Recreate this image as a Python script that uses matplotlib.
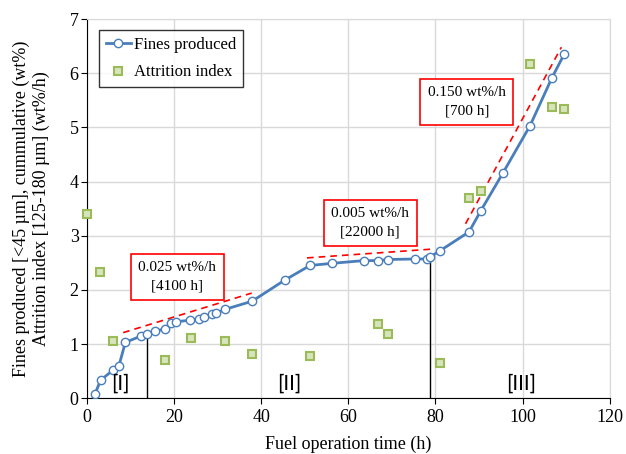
import numpy as np
import matplotlib.pyplot as plt

plt.rcParams['font.family'] = ['Liberation Serif', 'DejaVu Serif']
plt.rcParams['mathtext.fontset'] = 'stix'

# fines produced, cumulative
t_fines = [1.8, 3.1, 6.0, 7.3, 8.8, 12.5, 13.8, 15.7, 18.0, 19.3, 20.4, 23.7, 25.8,
           26.9, 28.8, 29.7, 31.7, 37.9, 45.4, 51.2, 56.3, 63.5, 66.7, 69.1, 75.2,
           78.1, 78.8, 81.0, 87.7, 90.4, 95.5, 101.7, 106.7, 109.6]
fines = [0.07, 0.33, 0.52, 0.59, 1.03, 1.15, 1.18, 1.24, 1.28, 1.38, 1.41, 1.44, 1.47,
         1.49, 1.55, 1.57, 1.64, 1.79, 2.18, 2.45, 2.49, 2.54, 2.54, 2.56, 2.57,
         2.57, 2.61, 2.72, 3.07, 3.46, 4.16, 5.03, 5.91, 6.36]

# attrition index
t_attr = [0.0, 3.0, 6.0, 18.0, 23.8, 31.7, 37.8, 51.2, 66.7, 69.1, 81.0, 87.6, 90.4,
          101.6, 106.7, 109.6]
attr = [3.40, 2.33, 1.06, 0.71, 1.12, 1.06, 0.82, 0.78, 1.37, 1.18, 0.64, 3.70, 3.83,
        6.17, 5.38, 5.34]

# linear fits (red dashed)
fit_x = [(8.3, 37.8), (50.5, 78.8), (86.9, 108.9)]
fit_y = [(1.21, 1.94), (2.59, 2.75), (3.22, 6.48)]
fit_labels = ['0.025 wt%/h\n[4100 h]', '0.005 wt%/h\n[22000 h]', '0.150 wt%/h\n[700 h]']
label_pos = [(20.7, 2.24), (65.0, 3.24), (87.2, 5.47)]

# stage boundaries
vlines = [(13.8, 1.18), (78.8, 2.61)]
stages = ['[I]', '[II]', '[III]']
stage_x = [7.6, 46.4, 99.6]

fig = plt.figure(figsize=(6.26, 4.54), dpi=100)
ax = fig.add_axes([0.139, 0.123, 0.835, 0.835])

ax.grid(True, color='#d9d9d9', linewidth=1)
ax.set_axisbelow(True)

for (x0, x1), (y0, y1) in zip(fit_x, fit_y):
    ax.plot([x0, x1], [y0, y1], '--', color='#ff0000', linewidth=1.2, dashes=(4, 3), zorder=2)

for x, y in vlines:
    ax.plot([x, x], [0, y], color='black', linewidth=1, zorder=2)

ax.plot(t_fines, fines, '-o', color='#4a7ebb', linewidth=2, markersize=6,
        markerfacecolor='white', markeredgecolor='#4a7ebb', markeredgewidth=1,
        label='Fines produced', zorder=3)
ax.plot(t_attr, attr, 's', markersize=6, markerfacecolor='#d7e4bd',
        markeredgecolor='#9bbb59', markeredgewidth=1.5, label='Attrition index',
        zorder=3, clip_on=False)

for txt, (x, y) in zip(fit_labels, label_pos):
    ax.text(x, y, txt, ha='center', va='center', fontsize=11, linespacing=1.5,
            bbox=dict(boxstyle='square,pad=0.5', facecolor='white', edgecolor='#ff0000', linewidth=1.2),
            zorder=4)

for s, x in zip(stages, stage_x):
    ax.text(x, 0.26, s, ha='center', va='center', fontsize=15, family='Lato')

ax.set_xlim(0, 120)
ax.set_ylim(0, 7)
ax.set_xticks(np.arange(0, 121, 20))
ax.set_yticks(np.arange(0, 8, 1))
ax.tick_params(labelsize=13, direction='out', length=4, color='black')
ax.tick_params(axis='y', pad=2)
for s in ['top', 'right']:
    ax.spines[s].set_color('#d9d9d9')
for s in ['left', 'bottom']:
    ax.spines[s].set_color('black')

ax.set_xlabel('Fuel operation time (h)', fontsize=13, labelpad=7)
ax.set_ylabel('Fines produced [<45 µm], cummulative (wt%)\nAttrition index [125-180 µm] (wt%/h)',
              fontsize=13, labelpad=14)

leg = ax.legend(loc='upper left', fontsize=12, frameon=True, fancybox=False,
                edgecolor='black', borderpad=0.4, handlelength=1.5, handletextpad=0.2,
                labelspacing=0.7, borderaxespad=0, bbox_to_anchor=(0.023, 0.971))
leg.get_frame().set_linewidth(1)

fig.savefig('out.png', dpi=100)
